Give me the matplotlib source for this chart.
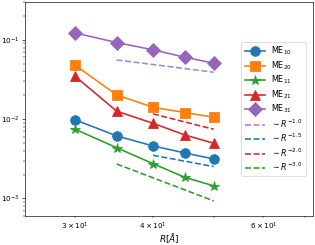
import matplotlib
matplotlib.use("Agg")
import matplotlib.pyplot as plt

# distances R (Angstrom)
R = [30, 35, 40, 45, 50]

# matrix element magnitudes
me10 = [0.00986, 0.00614, 0.00459, 0.00374, 0.00314]
me20 = [0.0483, 0.0202, 0.0141, 0.0121, 0.01055]
me11 = [0.0075, 0.00436, 0.00274, 0.00184, 0.00144]
me21 = [0.0351, 0.0126, 0.00886, 0.0063, 0.00496]
me31 = [0.1225, 0.0925, 0.0748, 0.0603, 0.0507]

# power-law guide lines (end points)
g1_R, g1_v = [35, 50], [0.0558, 0.0390]
g15_R, g15_v = [40, 50], [0.00350, 0.00252]
g2_R, g2_v = [40, 50], [0.01163, 0.00745]
g3_R, g3_v = [35, 50], [0.00272, 0.00093]

dpi = 58
fig = plt.figure(figsize=(315 / dpi, 245 / dpi), dpi=dpi)
ax = fig.add_axes([25 / 315, 29 / 245, 288 / 315, 214 / 245])

ms = 12
lw = 2
ax.plot(R, me10, "-o", color="C0", ms=ms, lw=lw, label=r"ME$_{10}$")
ax.plot(R, me20, "-s", color="C1", ms=ms, lw=lw, label=r"ME$_{20}$")
ax.plot(R, me11, "-*", color="C2", ms=ms, lw=lw, label=r"ME$_{11}$")
ax.plot(R, me21, "-^", color="C3", ms=ms, lw=lw, label=r"ME$_{21}$")
ax.plot(R, me31, "-D", color="C4", ms=ms, lw=lw, label=r"ME$_{31}$")

ax.plot(g1_R, g1_v, "--", color="C4", lw=lw, alpha=0.8, label=r"$\sim R^{-1.0}$")
ax.plot(g15_R, g15_v, "--", color="C0", lw=lw, label=r"$\sim R^{-1.5}$")
ax.plot(g2_R, g2_v, "--", color="C3", lw=lw, label=r"$\sim R^{-2.0}$")
ax.plot(g3_R, g3_v, "--", color="C2", lw=lw, label=r"$\sim R^{-3.0}$")

ax.set_xscale("log")
ax.set_yscale("log")
ax.set_xlim(25, 72)
ax.set_ylim(6e-4, 3e-1)
ax.set_xlabel(r"$R[\AA]$", fontsize=11, labelpad=0)
ax.tick_params(labelsize=9)
ax.tick_params(which="minor", labelsize=9)

ax.legend(loc="center right", fontsize=10, borderaxespad=0.9,
          labelspacing=0.25, handlelength=2.5)

fig.savefig("out.png", dpi=dpi)
